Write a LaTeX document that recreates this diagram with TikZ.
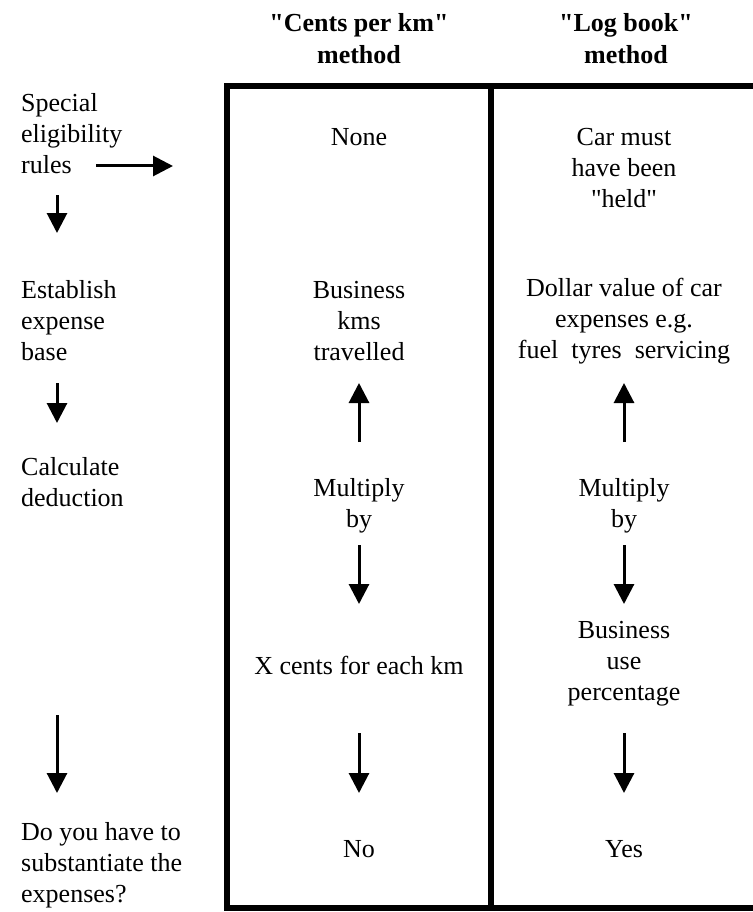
\documentclass[tikz,border=0pt]{standalone}
\usepackage{fontspec}
\setmainfont{Liberation Serif}
\usetikzlibrary{arrows.meta}

\begin{document}
\begin{tikzpicture}[x=1pt,y=-1pt,
	txt/.style={font=\fontsize{26}{31}\selectfont,align=center,inner sep=0pt},
	lefttxt/.style={txt,align=left,anchor=west},
	hd/.style={txt,font=\fontsize{26}{32}\selectfont\bfseries},
	arr/.style={-{Triangle[length=20pt,width=20pt]},line width=3pt}]
		\useasboundingbox (0,0) rectangle (752,912);
		\draw[line width=6pt] (227,86) rectangle (762,908); %枠
		\draw[line width=6pt] (491,86)--(491,908); %仕切り
		% 見出し
		\node[hd] (cpk) at (359,39) {\textquotedbl Cents per km\textquotedbl\\method};
		\node[hd] (lgb) at (626,39) {\textquotedbl Log book\textquotedbl\\method};
		% 左の列
		\node[lefttxt] (rules) at (21,134) {Special\\eligibility\\rules};
		\node[lefttxt] (base) at (21,321) {Establish\\expense\\base};
		\node[lefttxt] (deduct) at (21,482) {Calculate\\deduction};
		\node[lefttxt] (subst) at (21,865) {Do you have to\\substantiate the\\expenses?};
		% 中の列
		\node[txt] (none) at (359,137) {None};
		\node[txt] (kms) at (359,321) {Business\\kms\\travelled};
		\node[txt] (mulA) at (359,506) {Multiply\\by};
		\node[txt] (cents) at (359,665) {X cents for each km};
		\node[txt] (no) at (359,849) {No};
		% 右の列
		\node[txt] (held) at (624,168) {Car must\\have been\\\textquotedbl held\textquotedbl};
		\node[txt] (dollar) at (624,321) {Dollar value of car\\expenses e.g.\\fuel\ \ tyres\ \ servicing};
		\node[txt] (mulB) at (624,506) {Multiply\\by};
		\node[txt] (pct) at (624,664) {Business\\use\\percentage};
		\node[txt] (yes) at (624,849) {Yes};
		% 矢印
		\coordinate (r1) at (96,166);
		\coordinate (r2) at (173,166);
		\draw[arr] (r1)--(r2);
		\foreach \a/\b in {195/233,383/423,715/793}
			\draw[arr] (57,\a)--(57,\b);
		\foreach \x in {359,624}{
			\draw[arr] (\x,442)--(\x,383);
			\draw[arr] (\x,545)--(\x,604);
			\draw[arr] (\x,733)--(\x,793);
		}
	\end{tikzpicture}
\end{document}
